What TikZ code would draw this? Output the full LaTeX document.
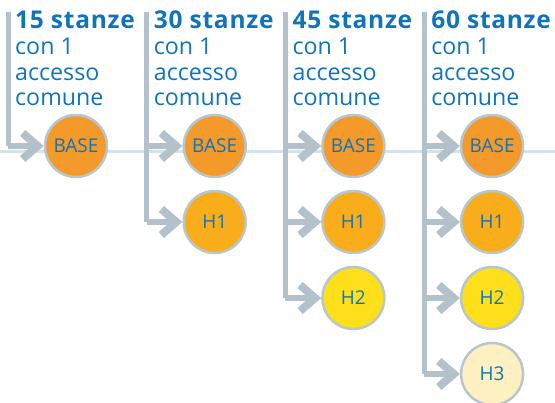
\documentclass[tikz,border=0pt]{standalone}
\usepackage{fontspec}
\setmainfont{Open Sans}
\usetikzlibrary{arrows.meta}
\definecolor{lg}{HTML}{B3C2CA}
\definecolor{lh}{HTML}{D3E2EB}
\definecolor{tb}{HTML}{0F74BA}
\definecolor{cbase}{HTML}{F39A2B}
\definecolor{ch1}{HTML}{F9AD1B}
\definecolor{ch2}{HTML}{FDE01A}
\definecolor{ch3}{HTML}{FEF0C0}
\definecolor{cb}{HTML}{B8C6CE}
\tikzset{
  circ/.style={circle, minimum size=62pt, inner sep=0pt, draw=cb, line width=2.5pt, text=tb, font=\fontsize{19}{19}\selectfont},
  conn/.style={draw=lg, line width=6.5pt, -{Straight Barb[length=15pt,width=26pt,line width=8pt]}},
  vline/.style={draw=lg, line width=5pt},
  head/.style={anchor=base west, inner sep=0pt, text=tb, font=\fontsize{24.5}{26}\selectfont\bfseries\addfontfeatures{LetterSpace=3}},
  body/.style={anchor=base west, inner sep=0pt, text=tb, font=\fontsize{23.2}{26}\selectfont},
}
\begin{document}
\begin{tikzpicture}[x=1pt,y=-1pt]
\useasboundingbox (0,0) rectangle (555,403);
\coordinate (hl) at (0,152);
\coordinate (hr) at (555,152);
\draw[lh, line width=3pt] (hl) -- (hr);
\foreach \k/\n in {0/15,1/30,2/45,3/60}{
  \pgfmathsetmacro{\ox}{\k*138.7}
  \node[head] (h\k) at (15+\ox,29) {\n{} stanze};
  \node[body] (la\k) at (15+\ox,55) {con 1};
  \node[body] (lb\k) at (15+\ox,81) {accesso};
  \node[body] (lc\k) at (15+\ox,106) {comune};
  \coordinate (t\k) at (8+\ox,12);
  \node[circ, fill=cbase] (c\k0) at (76+\ox,146) {BASE};
}
\node[circ, fill=ch1] (c11) at (214.7,222) {H1};
\node[circ, fill=ch1] (c21) at (353.4,222) {H1};
\node[circ, fill=ch2] (c22) at (353.4,298) {H2};
\node[circ, fill=ch1] (c31) at (492.1,222) {H1};
\node[circ, fill=ch2] (c32) at (492.1,298) {H2};
\node[circ, fill=ch3] (c33) at (492.1,374) {H3};
% column 1
\draw[vline] (t0) -- (t0 |- c00);
\draw[conn] (t0 |- c00) -- (c00);
% column 2
\draw[vline] (t1) -- (t1 |- c11);
\draw[conn] (t1 |- c10) -- (c10);
\draw[conn] (t1 |- c11) -- (c11);
% column 3
\draw[vline] (t2) -- (t2 |- c22);
\draw[conn] (t2 |- c20) -- (c20);
\draw[conn] (t2 |- c21) -- (c21);
\draw[conn] (t2 |- c22) -- (c22);
% column 4
\draw[vline] (t3) -- (t3 |- c33);
\draw[conn] (t3 |- c30) -- (c30);
\draw[conn] (t3 |- c31) -- (c31);
\draw[conn] (t3 |- c32) -- (c32);
\draw[conn] (t3 |- c33) -- (c33);
\end{tikzpicture}
\end{document}
